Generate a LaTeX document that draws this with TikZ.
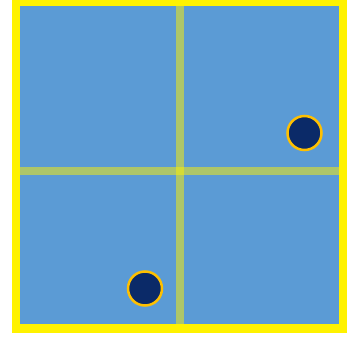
\documentclass[tikz,border=0pt]{standalone}
\usepackage{xcolor}
\definecolor{fieldblue}{HTML}{5B9BD5}
\definecolor{ballnavy}{HTML}{0B2A68}
\definecolor{ballrim}{HTML}{FFC000}
\tikzset{
  ball/.style={circle, fill=ballnavy, draw=ballrim, line width=2.5pt, minimum size=34pt, inner sep=0pt},
  divider/.style={yellow, opacity=0.5, line width=8pt}
}

\begin{document}
\begin{tikzpicture}[x=1pt, y=-1pt]
\useasboundingbox (0,0) rectangle (351,337);
\clip (0,0) rectangle (351,337);

% Field
\fill[fieldblue] (16,2) rectangle (343,328.5);

% Quadrant lines
\draw[divider] (180,2) -- (180,328.5);
\draw[divider] (16,171) -- (343,171);

% Outer frame
\draw[yellow, line width=8.5pt] (16,2) rectangle (343,328.5);

% Points
\node[ball] (p1) at (304.5,133) {};
\node[ball] (p2) at (145,288.5) {};

\end{tikzpicture}
\end{document}
